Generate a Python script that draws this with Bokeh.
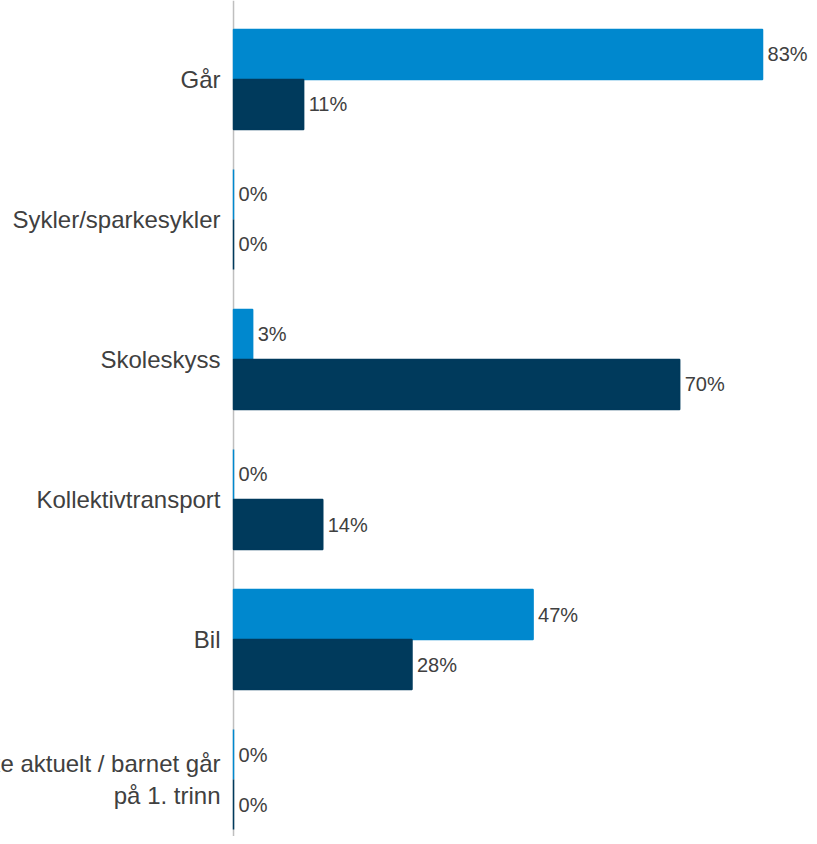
from bokeh.plotting import figure
from bokeh.models import ColumnDataSource, Range1d, Span
from bokeh.transform import dodge
from bokeh.core.properties import value
from bokeh.embed import file_html
from bokeh.resources import INLINE

categories = ["Går", "Sykler/sparkesykler", "Skoleskyss", "Kollektivtransport", "Bil",
              "Ikke aktuelt / barnet går\npå 1. trinn"]
series_a = [83, 0, 3, 0, 47, 0]
series_b = [11, 0, 70, 14, 28, 0]

color_a = "#0088CE"
color_b = "#003A5C"
text_color = "#404040"
font = "Liberation Sans"

pos = list(range(len(categories)))
src = ColumnDataSource(dict(
    pos=pos, cat=categories, a=series_a, b=series_b,
    zero=[0] * len(pos),
    la=[f"{v}%" for v in series_a], lb=[f"{v}%" for v in series_b],
))

p = figure(width=809, height=836, output_backend="svg", toolbar_location=None,
           x_range=Range1d(-36.56, 90.37), y_range=Range1d(5.407, -0.564),
           min_border=0, outline_line_color=None)
p.xaxis.visible = False
p.yaxis.visible = False
p.grid.visible = False
p.background_fill_color = "white"
p.border_fill_color = "white"

p.add_layout(Span(location=0, dimension="height", line_color="#BFBFBF", line_width=1.5,
                  level="underlay"))

bh = 0.357
off = 0.1786
p.hbar(y=dodge("pos", -off, range=p.y_range), left="zero", right="a", height=bh,
       source=src, fill_color=color_a, line_color=color_a, line_width=1.5)
p.hbar(y=dodge("pos", off, range=p.y_range), left="zero", right="b", height=bh,
       source=src, fill_color=color_b, line_color=color_b, line_width=1.5)

p.text(x="a", y=dodge("pos", -off, range=p.y_range), text="la", source=src,
       x_offset=5, text_align="left", text_baseline="middle",
       text_font=value(font), text_font_size="20px", text_color=text_color)
p.text(x="b", y=dodge("pos", off, range=p.y_range), text="lb", source=src,
       x_offset=5, text_align="left", text_baseline="middle",
       text_font=value(font), text_font_size="20px", text_color=text_color)

p.text(x="zero", y="pos", text="cat", source=src,
       x_offset=-13, text_align="right", text_baseline="middle",
       text_font=value(font), text_font_size="24px", text_color=text_color,
       text_line_height=1.22)

open("out.html", "w").write(file_html(p, INLINE))
